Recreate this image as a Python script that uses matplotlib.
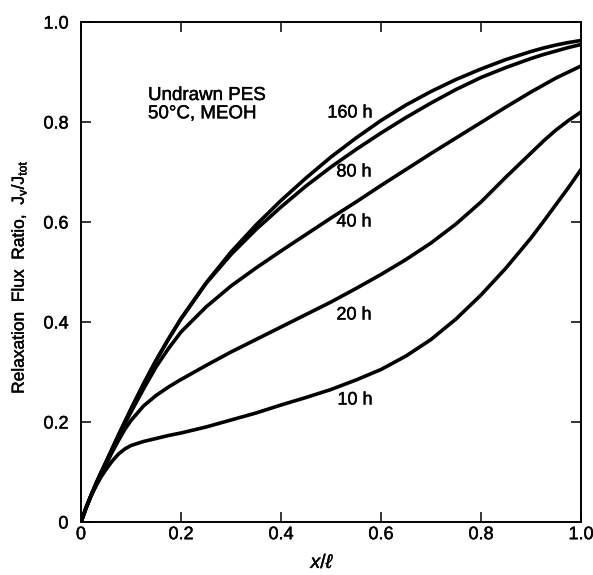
import matplotlib
matplotlib.use("Agg")
import matplotlib.pyplot as plt
import matplotlib.patheffects as pe

plt.rcParams["font.family"] = ["Liberation Sans", "DejaVu Sans"]
plt.rcParams["mathtext.fontset"] = "custom"
plt.rcParams["mathtext.rm"] = "Liberation Sans"
plt.rcParams["mathtext.it"] = "Liberation Sans:italic"

# Reduced position x/l
pos = [0.0, 0.01, 0.02, 0.03, 0.04, 0.05, 0.0625, 0.075, 0.0875, 0.1, 0.125, 0.15,
       0.175, 0.2, 0.25, 0.3, 0.35, 0.4, 0.45, 0.5, 0.55, 0.6, 0.65, 0.7, 0.75, 0.8,
       0.85, 0.9, 0.925, 0.95, 0.975, 1.0]

# Relaxation flux ratio Jv/Jtot at each exposure time
flux_10h = [0.0, 0.028, 0.052, 0.072, 0.09, 0.105, 0.122, 0.136, 0.146, 0.153, 0.161, 0.167,
            0.173, 0.178, 0.19, 0.204, 0.218, 0.234, 0.249, 0.265, 0.284, 0.305, 0.332, 0.365,
            0.406, 0.454, 0.508, 0.568, 0.601, 0.635, 0.669, 0.705]
flux_20h = [0.0, 0.028, 0.052, 0.074, 0.095, 0.115, 0.14, 0.163, 0.185, 0.203, 0.232, 0.253,
            0.27, 0.285, 0.313, 0.34, 0.365, 0.39, 0.415, 0.44, 0.467, 0.495, 0.525, 0.558,
            0.596, 0.64, 0.69, 0.738, 0.762, 0.784, 0.803, 0.82]
flux_40h = [0.0, 0.028, 0.053, 0.076, 0.098, 0.118, 0.144, 0.17, 0.196, 0.22, 0.266, 0.31,
            0.347, 0.38, 0.43, 0.472, 0.508, 0.542, 0.575, 0.608, 0.64, 0.673, 0.705, 0.737,
            0.768, 0.799, 0.83, 0.86, 0.874, 0.888, 0.9, 0.912]
flux_80h = [0.0, 0.028, 0.053, 0.077, 0.099, 0.12, 0.147, 0.174, 0.2, 0.226, 0.276, 0.323,
            0.366, 0.406, 0.477, 0.535, 0.585, 0.63, 0.672, 0.71, 0.745, 0.778, 0.809, 0.838,
            0.865, 0.889, 0.909, 0.927, 0.935, 0.942, 0.949, 0.955]
flux_160h = [0.0, 0.028, 0.053, 0.077, 0.099, 0.12, 0.147, 0.174, 0.2, 0.226, 0.276, 0.323,
             0.366, 0.407, 0.478, 0.54, 0.594, 0.643, 0.688, 0.73, 0.768, 0.803, 0.834, 0.861,
             0.885, 0.906, 0.925, 0.941, 0.948, 0.954, 0.959, 0.963]

series = [flux_10h, flux_20h, flux_40h, flux_80h, flux_160h]
curve_labels = ["10 h", "20 h", "40 h", "80 h", "160 h"]
label_xy = [(0.548, 0.244), (0.546, 0.414), (0.546, 0.60), (0.546, 0.70), (0.538, 0.818)]

ticks = [0.0, 0.2, 0.4, 0.6, 0.8, 1.0]
tick_text = ["0", "0.2", "0.4", "0.6", "0.8", "1.0"]

# slightly heavier type, like the printed figure
ink = [pe.withStroke(linewidth=0.3, foreground="black")]

fig = plt.figure(figsize=(5.93, 5.75), dpi=100)
ax = fig.add_axes([81 / 593, 53 / 575, 500 / 593, 500 / 575])

for ys in series:
    ax.plot(pos, ys, color="black", lw=2.6, solid_capstyle="round", solid_joinstyle="round")

for txt, (lx, ly) in zip(curve_labels, label_xy):
    ax.text(lx, ly, txt, fontsize=13, ha="center", va="center", path_effects=ink)

ax.text(0.134, 0.87, "Undrawn PES\n50°C, MEOH", fontsize=13.5, ha="left", va="top",
        linespacing=1.1, transform=ax.transAxes, path_effects=ink)

ax.set_xlim(0, 1)
ax.set_ylim(0, 1)
ax.set_xticks(ticks)
ax.set_yticks(ticks)
ax.set_xticklabels(tick_text)
ax.set_yticklabels(tick_text)
ax.tick_params(axis="both", which="major", direction="in", length=7, width=1.1,
               top=True, right=True, labelsize=13, color="black")
ax.tick_params(axis="x", pad=3)
ax.tick_params(axis="y", pad=9)
for lab in ax.get_xticklabels() + ax.get_yticklabels():
    lab.set_path_effects(ink)
for sp in ax.spines.values():
    sp.set_linewidth(1.4)

ylab = ax.set_ylabel(r"Relaxation  Flux  Ratio,  J$_\mathregular{v}$/J$_\mathregular{tot}$",
                     fontsize=12.5)
ylab.set_path_effects(ink)
ax.yaxis.set_label_coords(-0.105, 0.49)
xlab = ax.set_xlabel(r"$x/\ell$", fontsize=14)
xlab.set_path_effects(ink)
ax.xaxis.set_label_coords(0.484, -0.066)

fig.savefig("out.png", dpi=100)
